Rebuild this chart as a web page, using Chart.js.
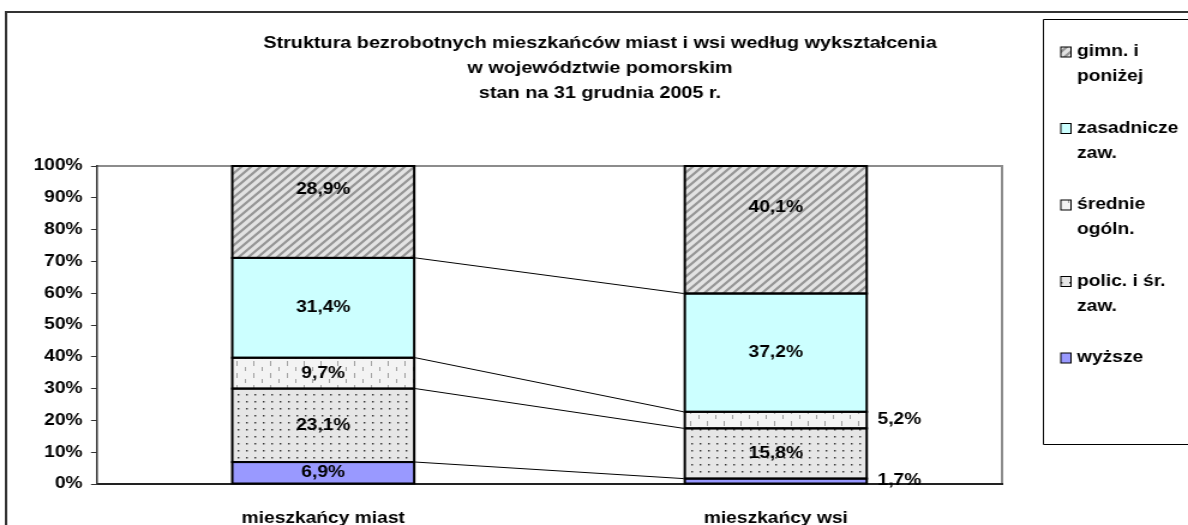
<!DOCTYPE html>
<html lang="pl">
<head>
<meta charset="utf-8">
<script src="https://cdn.jsdelivr.net/npm/chart.js@4.4.1/dist/chart.umd.min.js"></script>
<style>
html, body { margin: 0; padding: 0; background: #fff; overflow: hidden; }
#wrap { width: 990px; height: 525px; transform: scaleX(1.2); transform-origin: 0 0; }
</style>
</head>
<body>
<div id="wrap"><canvas id="grafico" width="990" height="525"></canvas></div>
<script>
// dane (w procentach)
const kategorie = ['mieszkańcy miast', 'mieszkańcy wsi'];
const wyzsze = [6.9, 1.7];
const policealne = [23.1, 15.8];
const srednieOgolne = [9.7, 5.2];
const zasadnicze = [31.4, 37.2];
const gimnazjalne = [28.9, 40.1];

const nazwySerii = [['wyższe'], ['polic. i śr.', 'zaw.'], ['średnie', 'ogóln.'], ['zasadnicze', 'zaw.'], ['gimn. i', 'poniżej']];
const tytul = [
    'Struktura bezrobotnych mieszkańców miast i wsi według wykształcenia',
    'w województwie pomorskim',
    'stan na 31 grudnia 2005 r.'
];

const FONT = '"Liberation Sans", Arial, sans-serif';
const canvas = document.getElementById('grafico');
const ctxGlowny = canvas.getContext('2d');

function nowyKafel(w, h, rysuj) {
    const c = document.createElement('canvas');
    c.width = w; c.height = h;
    rysuj(c.getContext('2d'));
    return ctxGlowny.createPattern(c, 'repeat');
}

const wzorUkosny = nowyKafel(8, 8, (ctx) => {
    ctx.fillStyle = '#e3e3e3';
    ctx.fillRect(0, 0, 8, 8);
    ctx.strokeStyle = '#969696';
    ctx.lineWidth = 2.2;
    ctx.beginPath();
    ctx.moveTo(-2, 10); ctx.lineTo(10, -2);
    ctx.moveTo(-2, 2); ctx.lineTo(2, -2);
    ctx.moveTo(6, 10); ctx.lineTo(10, 6);
    ctx.stroke();
});

const wzorKreski = nowyKafel(14, 12, (ctx) => {
    ctx.fillStyle = '#f3f3f3';
    ctx.fillRect(0, 0, 14, 12);
    ctx.fillStyle = '#a0a0a0';
    ctx.fillRect(1, 1, 1, 5);
    ctx.fillRect(8, 7, 1, 4);
});

const wzorKropki = nowyKafel(7, 7, (ctx) => {
    ctx.fillStyle = '#e6e6e6';
    ctx.fillRect(0, 0, 7, 7);
    ctx.fillStyle = '#333';
    ctx.fillRect(2, 2, 1.4, 1.5);
});

const kolory = ['#9999ff', wzorKropki, wzorKreski, '#ccffff', wzorUkosny];
const serie = [wyzsze, policealne, srednieOgolne, zasadnicze, gimnazjalne];

const daneWykresu = {
    labels: kategorie,
    datasets: serie.map((s, i) => ({
        label: nazwySerii[i].join(' '),
        data: s,
        backgroundColor: kolory[i],
        borderWidth: 0,
        barPercentage: 0.402,
        categoryPercentage: 1
    }))
};

const fmt = (v) => v.toFixed(1).replace('.', ',') + '%';

const dodatki = {
    id: 'dodatki',
    beforeDraw(chart) {
        const ctx = chart.ctx;
        const a = chart.chartArea;
        ctx.save();
        // ramka wykresu
        ctx.strokeStyle = '#333';
        ctx.lineWidth = 2;
        ctx.beginPath();
        ctx.moveTo(5, 525); ctx.lineTo(5, 12); ctx.lineTo(990, 12);
        ctx.stroke();
        // obszar kreślenia
        ctx.strokeStyle = '#8c8c8c';
        ctx.lineWidth = 2;
        ctx.beginPath();
        ctx.moveTo(a.left, a.top); ctx.lineTo(a.right, a.top); ctx.lineTo(a.right, a.bottom);
        ctx.stroke();
        // tytul
        ctx.fillStyle = '#000';
        ctx.font = 'bold 16.5px ' + FONT;
        ctx.textAlign = 'center';
        ctx.textBaseline = 'middle';
        tytul.forEach((t, i) => ctx.fillText(t, 500, 43 + i * 25));
        // legenda
        ctx.font = 'bold 16px ' + FONT;
        ctx.strokeStyle = '#000';
        ctx.lineWidth = 1;
        ctx.beginPath();
        ctx.moveTo(990, 19.5); ctx.lineTo(869.5, 19.5); ctx.lineTo(869.5, 444.5); ctx.lineTo(990, 444.5);
        ctx.stroke();
        ctx.textAlign = 'left';
        for (let k = 0; k < serie.length; k++) {
            const i = serie.length - 1 - k;
            const y = 52 + k * 76.5;
            ctx.fillStyle = kolory[i];
            ctx.fillRect(884, y - 5, 8.5, 10);
            ctx.strokeRect(884, y - 5, 8.5, 10);
            ctx.fillStyle = '#000';
            nazwySerii[i].forEach((linia, j) => ctx.fillText(linia, 897.5, y + j * 25));
        }
        ctx.restore();
    },
    afterDatasetsDraw(chart) {
        const ctx = chart.ctx;
        const yS = chart.scales.y;
        ctx.save();
        // obrys segmentow
        ctx.strokeStyle = '#000';
        ctx.lineWidth = 2;
        chart.data.datasets.forEach((ds, i) => {
            chart.getDatasetMeta(i).data.forEach((el) => {
                ctx.strokeRect(el.x - el.width / 2, el.y, el.width, el.base - el.y);
            });
        });
        // linie serii
        ctx.lineWidth = 1;
        let sumA = 0, sumB = 0;
        for (let i = 0; i < serie.length - 1; i++) {
            sumA += serie[i][0];
            sumB += serie[i][1];
            const e1 = chart.getDatasetMeta(i).data[0];
            const e2 = chart.getDatasetMeta(i).data[1];
            ctx.beginPath();
            ctx.moveTo(e1.x + e1.width / 2 + 1, yS.getPixelForValue(sumA));
            ctx.lineTo(e2.x - e2.width / 2 - 1, yS.getPixelForValue(sumB));
            ctx.stroke();
        }
        // etykiety wartosci
        ctx.fillStyle = '#000';
        ctx.font = 'bold 16px ' + FONT;
        ctx.textBaseline = 'middle';
        chart.data.datasets.forEach((ds, i) => {
            chart.getDatasetMeta(i).data.forEach((el, j) => {
                const v = ds.data[j];
                let cy = (el.y + el.base) / 2;
                if (i === serie.length - 1) cy -= 22;
                if (v < 6) {
                    ctx.textAlign = 'left';
                    ctx.fillText(fmt(v), el.x + el.width / 2 + 9, cy);
                } else {
                    ctx.textAlign = 'center';
                    ctx.fillText(fmt(v), el.x, cy);
                }
            });
        });
        ctx.restore();
    }
};

new Chart(canvas, {
    type: 'bar',
    data: daneWykresu,
    options: {
        responsive: false,
        animation: false,
        layout: { padding: { top: 166, right: 155, bottom: 0, left: 0 } },
        plugins: {
            legend: { display: false },
            title: { display: false },
            tooltip: { enabled: false }
        },
        scales: {
            x: {
                stacked: true,
                grid: { display: false },
                border: { display: true, color: '#222', width: 2 },
                ticks: { color: '#000', padding: 17, font: { family: FONT, size: 16, weight: 'bold' } },
                afterFit: (s) => { s.height = 41; }
            },
            y: {
                stacked: true,
                min: 0,
                max: 100,
                grid: { drawOnChartArea: false, drawTicks: true, tickLength: 5, color: '#333' },
                border: { display: true, color: '#333', width: 1.5 },
                ticks: {
                    stepSize: 10,
                    padding: 7,
                    color: '#000',
                    font: { family: FONT, size: 16, weight: 'bold' },
                    callback: (v) => v + '%'
                },
                afterFit: (s) => { s.width = 80.8; }
            }
        }
    },
    plugins: [dodatki]
});
</script>
</body>
</html>
